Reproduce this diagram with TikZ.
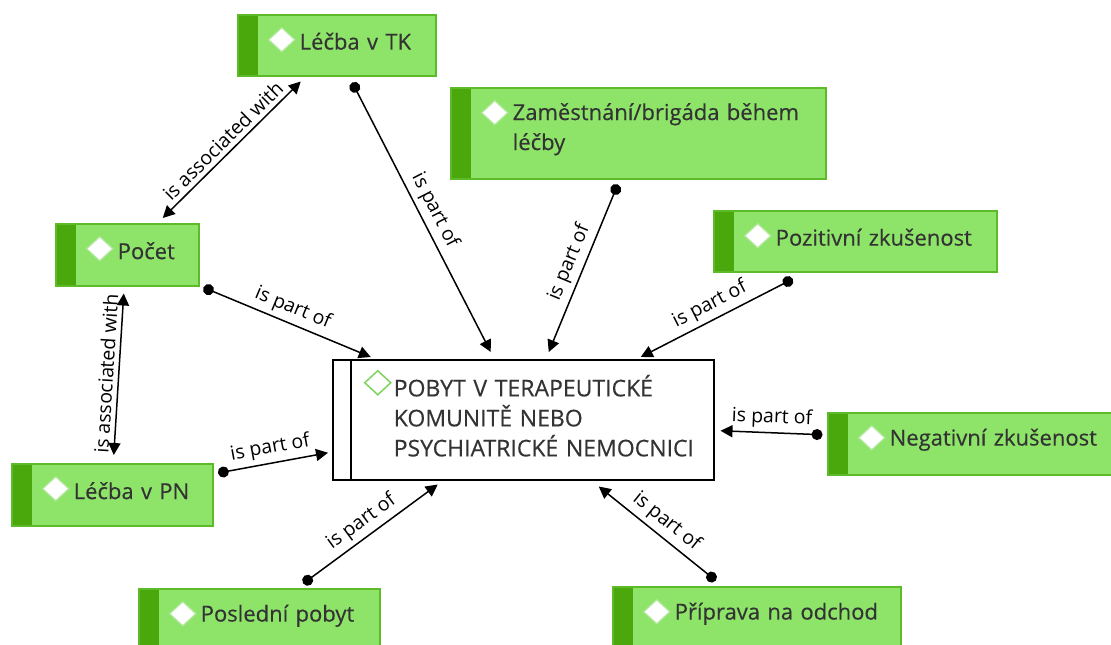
\documentclass[tikz,border=0pt]{standalone}
\usepackage{fontspec}
\setmainfont{Open Sans}
\newfontfamily\conceptfont{Open Sans}[FakeBold=0.35]
\usetikzlibrary{arrows.meta}
\definecolor{conceptfill}{HTML}{8DE469}
\definecolor{conceptband}{HTML}{4AA80D}
\definecolor{conceptline}{HTML}{5DBB2A}
\definecolor{iconedge}{HTML}{B5E8A0}
\definecolor{icongreen}{HTML}{7ED35C}
\definecolor{textgray}{HTML}{333333}
\tikzset{
  concept/.style={anchor=north west, rectangle, fill=conceptfill, draw=conceptline, line width=1.5pt,
    inner xsep=0pt, inner ysep=0pt, minimum height=62pt, text width=#1, align=left, text=textgray,
    font=\conceptfont\fontsize{22}{30}\selectfont,
    execute at begin node={\leftskip=62pt\relax},
    execute at end node={\par\kern8pt\relax},
    path picture={
      \fill[conceptband] (path picture bounding box.north west) rectangle ([xshift=20pt]path picture bounding box.south west);
      \filldraw[fill=white, draw=iconedge, line width=1.2pt] ([xshift=31pt,yshift=-25pt]path picture bounding box.north west)
        -- ++(13pt,12pt) -- ++(13pt,-12pt) -- ++(-13pt,-12pt) -- cycle;
    }},
  mainconcept/.style={anchor=north west, rectangle, fill=white, draw=black, line width=1.5pt,
    inner xsep=0pt, inner ysep=0pt, minimum height=120pt, text width=381pt, align=left, text=textgray,
    font=\conceptfont\fontsize{23}{30}\selectfont,
    execute at begin node={\leftskip=61pt\relax},
    execute at end node={\par\kern8pt\relax},
    path picture={
      \draw[line width=1.5pt] ([xshift=18pt]path picture bounding box.north west) -- ([xshift=18pt]path picture bounding box.south west);
      \draw[icongreen, line width=1.5pt] ([xshift=32pt,yshift=-23pt]path picture bounding box.north west)
        -- ++(13pt,12pt) -- ++(13pt,-12pt) -- ++(-13pt,-12pt) -- cycle;
    }},
  partof/.style={line width=1.5pt, {Circle[length=11pt]}-{Triangle[length=12pt,width=12pt]}},
  assoc/.style={line width=1.5pt, {Triangle[length=12pt,width=12pt]}-{Triangle[length=12pt,width=12pt]}},
  rellabel/.style={above, sloped, font=\fontsize{19.5}{22}\selectfont, text=black, inner sep=4.5pt}
}
\begin{document}
\begin{tikzpicture}[x=1pt,y=-1pt]
\useasboundingbox (0,0) rectangle (1111,645);
\node[concept=198pt, minimum height=61pt] (tk) at (237,14) {Léčba v TK};
\node[concept=375pt, minimum height=91pt] (zam) at (450,87) {Zaměstnání/brigáda během\\léčby};
\node[concept=143pt] (pocet) at (55,223) {Počet};
\node[concept=283pt, minimum height=61pt] (poz) at (713,210) {Pozitivní zkušenost};
\node[mainconcept] (main) at (332,359) {POBYT V TERAPEUTICKÉ\\KOMUNITĚ NEBO\\PSYCHIATRICKÉ NEMOCNICI};
\node[concept=286pt] (neg) at (827,412) {Negativní zkušenost};
\node[concept=201pt] (pn) at (11,463) {Léčba v PN};
\node[concept=241pt] (posl) at (138,588) {Poslední pobyt};
\node[concept=288pt] (prip) at (612,586) {Příprava na odchod};

\draw[assoc] ([xshift=35.5pt,yshift=5pt]pocet.north) -- node[rellabel]{is associated with} ([xshift=-36pt,yshift=-5pt]tk.south);
\draw[assoc] ([xshift=1.5pt,yshift=8pt]pn.north) -- node[rellabel]{is associated with} ([xshift=-3.5pt,yshift=-7pt]pocet.south);
\draw[partof] ([xshift=4pt,yshift=-1pt]pocet.south east) -- node[rellabel]{is part of} ([xshift=-152.5pt,yshift=2pt]main.north);
\draw[partof] ([xshift=15.5pt,yshift=-6pt]tk.south) -- node[rellabel]{is part of} ([xshift=-32.5pt,yshift=7pt]main.north);
\draw[partof] ([xshift=-20.5pt,yshift=-5pt]zam.south) -- node[rellabel]{is part of} ([xshift=25.5pt,yshift=7pt]main.north);
\draw[partof] ([xshift=-62.5pt,yshift=-6.5pt]poz.south) -- node[rellabel]{is part of} ([xshift=117.5pt,yshift=2pt]main.north);
\draw[partof] ([xshift=-4.5pt,yshift=9pt]neg.west) -- node[rellabel]{is part of} ([xshift=6pt,yshift=-11pt]main.east);
\draw[partof] ([xshift=4.5pt,yshift=-10pt]pn.north east) -- node[rellabel]{is part of} ([xshift=-4pt,yshift=-33pt]main.west);
\draw[partof] ([xshift=44pt,yshift=4.5pt]posl.north) -- node[rellabel]{is part of} ([xshift=-85.5pt,yshift=-4pt]main.south);
\draw[partof] ([xshift=-41pt,yshift=5.5pt]prip.north) -- node[rellabel]{is part of} ([xshift=75.5pt,yshift=-6pt]main.south);
\end{tikzpicture}
\end{document}
